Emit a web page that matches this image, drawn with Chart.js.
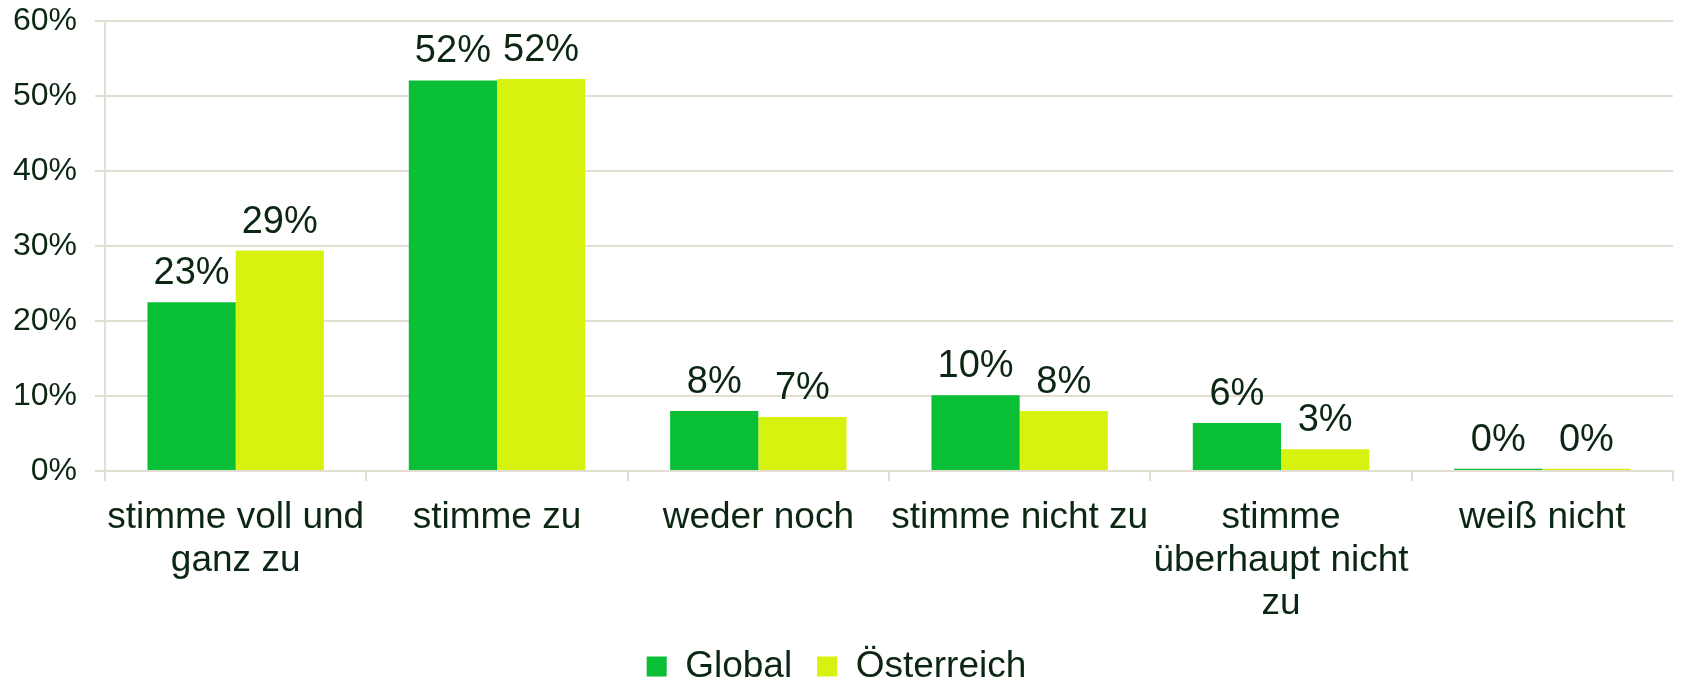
<!DOCTYPE html>
<html>
<head>
<meta charset="utf-8">
<script src="https://cdn.jsdelivr.net/npm/chart.js@4"></script>
<style>
  html, body { margin: 0; padding: 0; background: #fff; }
  #wrap { width: 1683px; height: 679px; }
</style>
</head>
<body>
<div id="wrap"><canvas id="chart"></canvas></div>
<script>
// Daten
const categories = [
  ["stimme voll und", "ganz zu"],
  "stimme zu",
  "weder noch",
  "stimme nicht zu",
  ["stimme", "überhaupt nicht", "zu"],
  "weiß nicht"
];
const globalValues = [22.5, 52.1, 8.0, 10.1, 6.4, 0.3];
const oesterreichValues = [29.4, 52.3, 7.2, 8.0, 2.9, 0.3];
const yTicks = [0, 10, 20, 30, 40, 50, 60];

const textColor = "#0b2612";
const gridColor = "#e3ded2";
const font = "'Liberation Sans', Arial, sans-serif";

// Werte über den Balken
const barLabels = {
  id: "barLabels",
  afterDatasetsDraw(chart) {
    const ctx = chart.ctx;
    ctx.save();
    ctx.font = "38px " + font;
    ctx.fillStyle = textColor;
    ctx.textAlign = "center";
    ctx.textBaseline = "alphabetic";
    chart.data.datasets.forEach((ds, i) => {
      chart.getDatasetMeta(i).data.forEach((bar, j) => {
        ctx.fillText(Math.round(ds.data[j]) + "%", bar.x, bar.y - 18);
      });
    });
    ctx.restore();
  }
};

new Chart(document.getElementById("chart"), {
  type: "bar",
  data: {
    labels: categories,
    datasets: [
      {
        label: "Global",
        data: globalValues,
        backgroundColor: "#09bf36",
        categoryPercentage: 0.675,
        barPercentage: 1.0
      },
      {
        label: "Österreich",
        data: oesterreichValues,
        backgroundColor: "#d8f20f",
        categoryPercentage: 0.675,
        barPercentage: 1.0
      }
    ]
  },
  options: {
    responsive: true,
    maintainAspectRatio: false,
    animation: false,
    layout: { padding: { top: 21, right: 10, left: 0, bottom: -16 } },
    plugins: {
      tooltip: { enabled: false },
      legend: {
        position: "bottom",
        labels: {
          color: textColor,
          font: { family: font, size: 37, lineHeight: 0.5 },
          boxWidth: 20,
          boxHeight: 20,
          padding: 25
        }
      }
    },
    scales: {
      x: {
        afterFit(scale) { scale.height = 152; },
        grid: {
          offset: true,
          drawOnChartArea: false,
          color: gridColor,
          lineWidth: 2,
          tickLength: 10
        },
        border: { color: gridColor, width: 2 },
        ticks: {
          color: textColor,
          font: { family: font, size: 37, lineHeight: 1.15 },
          padding: 16,
          maxRotation: 0,
          autoSkip: false
        }
      },
      y: {
        min: 0,
        max: 60,
        afterFit(scale) { scale.width = 105; },
        afterBuildTicks(scale) { scale.ticks = yTicks.map(v => ({ value: v })); },
        grid: { color: gridColor, lineWidth: 2, tickLength: 10 },
        border: { color: gridColor, width: 2 },
        ticks: {
          color: textColor,
          font: { family: font, size: 32, lineHeight: 0.2 },
          padding: 18,
          callback: v => v + "%"
        }
      }
    }
  },
  plugins: [barLabels]
});
</script>
</body>
</html>
